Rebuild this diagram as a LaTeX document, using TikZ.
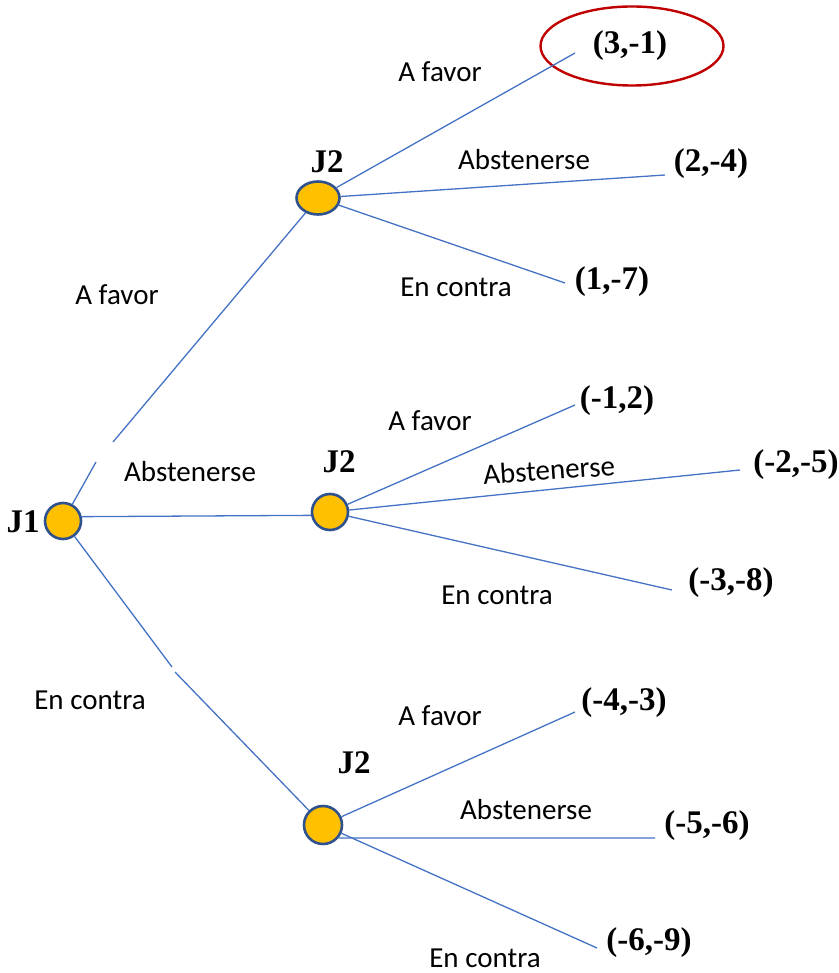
\documentclass[tikz,border=0pt]{standalone}
\usepackage{fontspec}
\setmainfont{Liberation Serif}
\newfontfamily\lblfont{Carlito}
\usetikzlibrary{shapes.geometric}
\definecolor{edgeblue}{RGB}{68,114,196}
\definecolor{nodefill}{RGB}{255,192,0}
\definecolor{nodeline}{RGB}{47,82,143}
\definecolor{ovalred}{RGB}{192,0,0}
\tikzset{
  player/.style={ellipse, draw=nodeline, fill=nodefill, line width=2.6pt, inner sep=0pt},
  edge/.style={draw=edgeblue, line width=1.3pt},
  lbl/.style={font=\fontsize{29}{33}\selectfont\lblfont, inner sep=0pt},
  pay/.style={font=\fontsize{33}{37}\selectfont\bfseries, inner sep=0pt},
  jname/.style={font=\fontsize{33}{37}\selectfont\bfseries, inner sep=0pt},
}
\begin{document}
\begin{tikzpicture}[x=1pt, y=-1pt]
\useasboundingbox (0,0) rectangle (838,973);
% players
\node[player, minimum width=36pt, minimum height=36pt] (j1) at (63,521) {};
\node[player, minimum width=43pt, minimum height=33pt] (ja) at (318,198) {};
\node[player, minimum width=36pt, minimum height=36pt] (jb) at (330,512) {};
\node[player, minimum width=38pt, minimum height=38pt] (jc) at (323,825) {};
\node[jname] (lj1) at (23,522) {J1};
\node[jname] (lja) at (327,162) {J2};
\node[jname] (ljb) at (339,462) {J2};
\node[jname] (ljc) at (354,763) {J2};
% payoffs
\node[pay] (p1) at (630,46) {(3,-1)};
\node[pay] (p2) at (711,164) {(2,-4)};
\node[pay] (p3) at (612,282) {(1,-7)};
\node[pay] (p4) at (617,401) {(-1,2)};
\node[pay] (p5) at (796,465) {(-2,-5)};
\node[pay] (p6) at (731,583) {(-3,-8)};
\node[pay] (p7) at (624,703) {(-4,-3)};
\node[pay] (p8) at (707,826) {(-5,-6)};
\node[pay] (p9) at (649,943) {(-6,-9)};
\node[ellipse, draw=ovalred, line width=2.4pt, minimum width=183pt, minimum height=79pt] (oval) at (632,46) {};
% end points
\coordinate (e1) at (575,53);
\coordinate (e2) at (665,175);
\coordinate (e3) at (565,283);
\coordinate (e4) at (575,405);
\coordinate (e5) at (740,470);
\coordinate (e6) at (672,590);
\coordinate (e7) at (575,712);
\coordinate (e8) at (655,838);
\coordinate (e9) at (597,948);
% gaps on first-level edges
\coordinate (ga1) at (96,462);
\coordinate (ga2) at (113,442);
\coordinate (gc1) at (172,667);
\coordinate (gc2) at (175,672);
% first-level edges
\draw[edge] (j1) -- (ga1);
\draw[edge] (ga2) -- (ja);
\draw[edge] (j1.13) -- (jb.190);
\draw[edge] (j1) -- (gc1);
\draw[edge] (gc2) -- (jc);
% second-level edges
\draw[edge] (ja) -- (e1);
\draw[edge] (ja) -- (e2);
\draw[edge] (ja) -- (e3);
\draw[edge] (jb) -- (e4);
\draw[edge] (jb) -- (e5);
\draw[edge] (jb) -- (e6);
\draw[edge] (jc) -- (e7);
\draw[edge] (jc.-40) -- (e8);
\draw[edge] (jc) -- (e9);
% labels
\node[lbl] (l1) at (117,295) {A favor};
\node[lbl] (l2) at (190,472) {Abstenerse};
\node[lbl] (l3) at (90,700) {En contra};
\node[lbl] (l4) at (440,72) {A favor};
\node[lbl] (l5) at (524,160) {Abstenerse};
\node[lbl] (l6) at (456,287) {En contra};
\node[lbl] (l7) at (430,421) {A favor};
\node[lbl, rotate=4] (l8) at (549,470) {Abstenerse};
\node[lbl] (l9) at (497,595) {En contra};
\node[lbl] (l10) at (440,716) {A favor};
\node[lbl] (l11) at (526,810) {Abstenerse};
\node[lbl] (l12) at (485,958) {En contra};
\end{tikzpicture}
\end{document}
